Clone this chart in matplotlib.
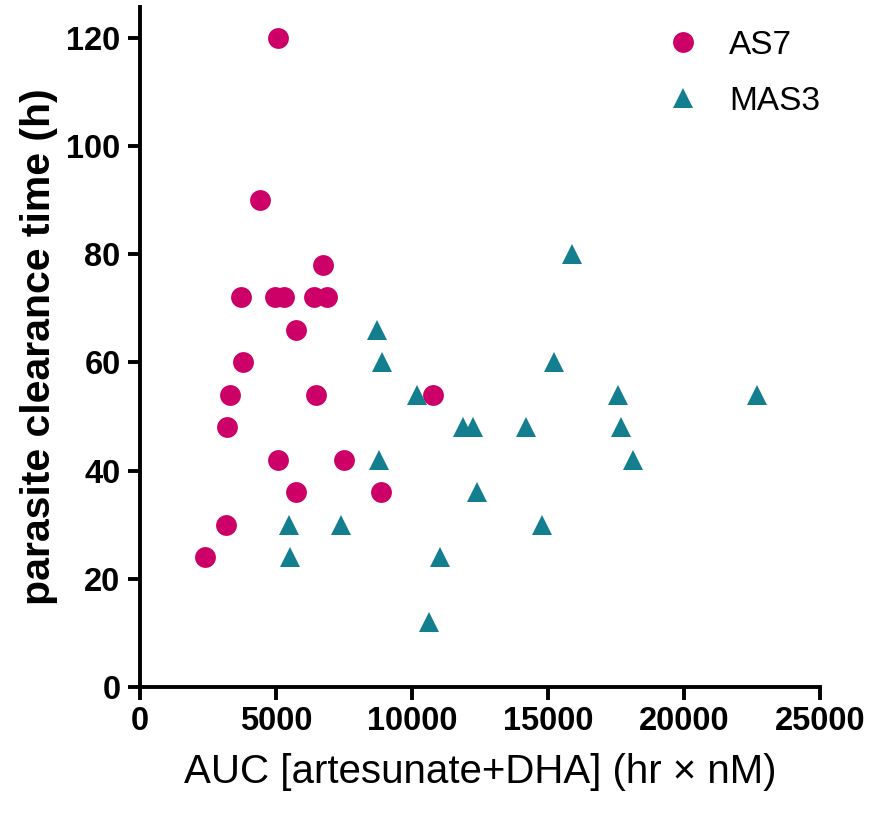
import matplotlib
matplotlib.use("Agg")
import matplotlib.pyplot as plt

# AUC [artesunate+DHA] (hr x nM) vs parasite clearance time (h)
as7_auc = [5060, 4410, 6720, 3710, 4960, 5290, 6410, 6860, 5740, 3800,
           3310, 6460, 10770, 3190, 5090, 7500, 5740, 8850, 3160, 2390]
as7_pct = [120, 90, 78, 72, 72, 72, 72, 72, 66, 60,
           54, 54, 54, 48, 42, 42, 36, 36, 30, 24]

mas3_auc = [8710, 8890, 10200, 8800, 5480, 7380, 5500, 11030, 10640, 15890,
            15210, 11860, 12230, 14190, 17590, 17680, 18140, 22700, 12380, 14790]
mas3_pct = [66, 60, 54, 42, 30, 30, 24, 24, 12, 80,
            60, 48, 48, 48, 54, 48, 42, 54, 36, 30]

x_ticks = [0, 5000, 10000, 15000, 20000, 25000]
y_ticks = [0, 20, 40, 60, 80, 100, 120]

pink = "#CC0066"
teal = "#137F8E"

plt.rcParams['font.family'] = ['Liberation Sans', 'DejaVu Sans']

fig = plt.figure(figsize=(8.76, 8.13), dpi=100)
ax = fig.add_axes([0.1598, 0.155, 0.7763, 0.8364])

ax.plot(as7_auc, as7_pct, linestyle='none', marker='o', markersize=15,
        color=pink, markeredgewidth=0, label='AS7')
ax.plot(mas3_auc, mas3_pct, linestyle='none', marker='^', markersize=15,
        color=teal, markeredgewidth=0, label='MAS3')

ax.set_xlim(0, 25000)
ax.set_ylim(0, 125.7)
ax.set_xticks(x_ticks)
ax.set_yticks(y_ticks)
ax.set_xticklabels([str(t) for t in x_ticks], fontsize=23.5, fontweight='bold')
ax.set_yticklabels([str(t) for t in y_ticks], fontsize=23.5, fontweight='bold')

for side in ['top', 'right']:
    ax.spines[side].set_visible(False)
for side in ['left', 'bottom']:
    ax.spines[side].set_linewidth(2.8)
ax.tick_params(width=2.8, length=9, pad=5)

ax.set_xlabel('AUC [artesunate+DHA] (hr \u00d7 nM)', fontsize=29, labelpad=11)
ax.set_ylabel('parasite clearance time (h)', fontsize=29.5, fontweight='bold',
              labelpad=6)

ax.legend(loc='upper left', bbox_to_anchor=(666 / 876, 1 - 30 / 813),
          bbox_transform=fig.transFigure, frameon=False, fontsize=24,
          handlelength=1.0, handletextpad=0.9, labelspacing=0.75,
          borderpad=0, borderaxespad=0)

plt.savefig('out.png', dpi=100)
plt.close()
